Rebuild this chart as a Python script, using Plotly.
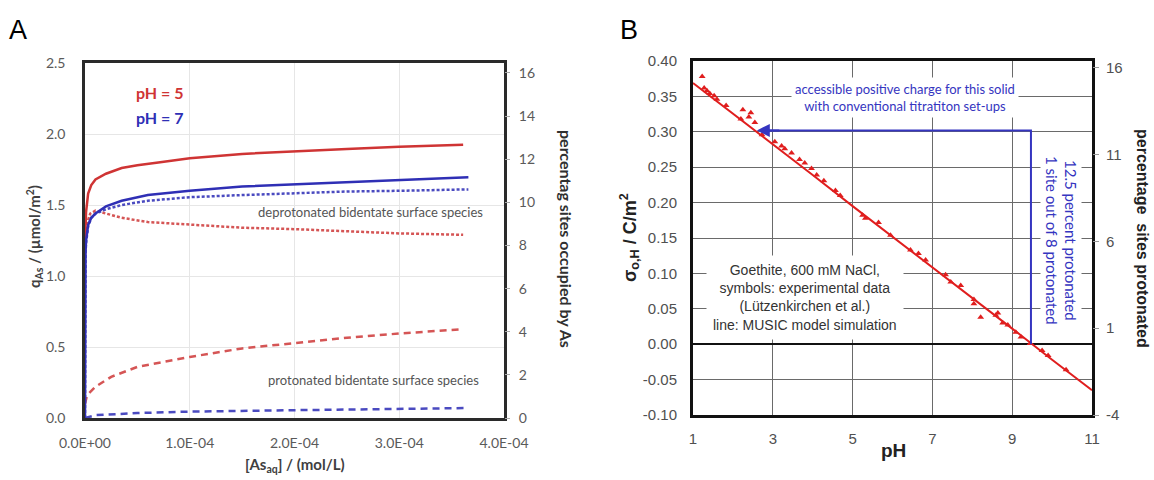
import plotly.graph_objects as go

W, H = 1154, 480

# ---------------- Panel A data ----------------
conc_red_total = [0, 0.01e-4, 0.03e-4, 0.06e-4, 0.1e-4, 0.2e-4, 0.35e-4, 0.5e-4, 0.7e-4, 1.0e-4, 1.5e-4, 2.0e-4, 2.5e-4, 3.0e-4, 3.61e-4]
q_red_total = [1.25, 1.45, 1.58, 1.64, 1.68, 1.72, 1.76, 1.78, 1.80, 1.83, 1.86, 1.88, 1.895, 1.91, 1.925]

conc_blue_total = [0, 0.001e-4, 0.005e-4, 0.01e-4, 0.03e-4, 0.06e-4, 0.1e-4, 0.2e-4, 0.35e-4, 0.6e-4, 1.0e-4, 1.5e-4, 2.0e-4, 2.5e-4, 3.0e-4, 3.66e-4]
q_blue_total = [0, 1.0, 1.17, 1.25, 1.36, 1.41, 1.44, 1.49, 1.53, 1.57, 1.60, 1.63, 1.645, 1.66, 1.675, 1.695]

conc_blue_deprot = [0, 0.001e-4, 0.005e-4, 0.01e-4, 0.03e-4, 0.06e-4, 0.1e-4, 0.2e-4, 0.35e-4, 0.6e-4, 1.0e-4, 1.5e-4, 2.0e-4, 2.5e-4, 3.0e-4, 3.66e-4]
q_blue_deprot = [0, 1.0, 1.15, 1.23, 1.35, 1.41, 1.44, 1.47, 1.50, 1.53, 1.555, 1.57, 1.585, 1.595, 1.60, 1.61]

conc_red_deprot = [0, 0.01e-4, 0.05e-4, 0.1e-4, 0.2e-4, 0.35e-4, 0.6e-4, 1.0e-4, 1.5e-4, 2.0e-4, 2.5e-4, 3.0e-4, 3.61e-4]
q_red_deprot = [1.15, 1.35, 1.44, 1.46, 1.44, 1.41, 1.38, 1.36, 1.34, 1.33, 1.315, 1.30, 1.29]

conc_red_prot = [0, 0.02e-4, 0.1e-4, 0.25e-4, 0.5e-4, 1.0e-4, 1.5e-4, 2.0e-4, 2.5e-4, 3.0e-4, 3.6e-4]
q_red_prot = [0.10, 0.16, 0.22, 0.29, 0.36, 0.43, 0.49, 0.53, 0.565, 0.595, 0.625]

conc_blue_prot = [0, 0.1e-4, 0.5e-4, 1.0e-4, 2.0e-4, 3.0e-4, 3.66e-4]
q_blue_prot = [0, 0.02, 0.035, 0.045, 0.055, 0.065, 0.07]

a_x_ticks = [0, 1e-4, 2e-4, 3e-4, 4e-4]
a_x_ticktext = ["0.0E+00", "1.0E-04", "2.0E-04", "3.0E-04", "4.0E-04"]
a_y_ticks = [0, 0.5, 1.0, 1.5, 2.0, 2.5]
a_y_ticktext = ["0.0", "0.5", "1.0", "1.5", "2.0", "2.5"]
a_y2_ticks = [0, 2, 4, 6, 8, 10, 12, 14, 16]

# ---------------- Panel B data ----------------
ph_exp = [1.23, 1.28, 1.35, 1.42, 1.53, 1.60, 1.83, 2.25, 2.45, 2.40, 2.20, 2.55, 2.73, 3.05, 3.22, 3.30,
          3.47, 3.67, 3.80, 3.97, 4.10, 4.28, 4.57, 4.69, 5.25, 5.32, 5.65, 5.95, 6.45, 6.65, 6.83, 7.33,
          7.46, 7.71, 8.04, 8.04, 8.21, 8.59, 8.64, 8.76, 8.89, 9.09, 9.22, 9.45, 9.75, 9.90, 10.35]
sigma_exp = [0.378, 0.362, 0.358, 0.354, 0.351, 0.346, 0.337, 0.331, 0.327, 0.321, 0.318, 0.313, 0.296, 0.286, 0.280, 0.276,
             0.270, 0.261, 0.256, 0.248, 0.239, 0.231, 0.217, 0.210, 0.182, 0.178, 0.172, 0.154, 0.133, 0.128, 0.119, 0.098,
             0.088, 0.083, 0.063, 0.057, 0.038, 0.041, 0.044, 0.030, 0.027, 0.017, 0.010, 0.001, -0.009, -0.016, -0.036]

ph_model = [1, 2, 3, 4, 5, 6, 7, 8, 9, 10, 11]
sigma_model = [0.369, 0.326, 0.282, 0.239, 0.195, 0.152, 0.109, 0.065, 0.022, -0.022, -0.065]

pzc_ph = [9.47, 9.47, 2.75]
pzc_sigma = [0.0, 0.302, 0.302]
arrow_tip_ph = 2.6
arrow_tail_ph = 3.2
arrow_sigma = 0.302

b_x_ticks = [1, 3, 5, 7, 9, 11]
b_y_ticks = [-0.10, -0.05, 0.00, 0.05, 0.10, 0.15, 0.20, 0.25, 0.30, 0.35, 0.40]
b_y_ticktext = ["-0.10", "-0.05", "0.00", "0.05", "0.10", "0.15", "0.20", "0.25", "0.30", "0.35", "0.40"]
b_y2_ticks = [-4, 1, 6, 11, 16]
b_y2_ticktext = ["-4", "1", "6", "11", "16"]

RED_A = "#cf3434"
BLUE_A = "#2f2fb5"
RED_B = "#e01e1e"
BLUE_B = "#3535c0"


def px(x):
    return x / W


def py(y):
    return 1 - y / H


fig = go.Figure()

# Panel A traces
fig.add_trace(go.Scatter(x=conc_red_prot, y=q_red_prot, mode="lines",
                         line=dict(color="#d55555", width=2.5, dash="7px,5px"), xaxis="x", yaxis="y"))
fig.add_trace(go.Scatter(x=conc_blue_prot, y=q_blue_prot, mode="lines",
                         line=dict(color="#4a4ac0", width=2.5, dash="7px,5px"), xaxis="x", yaxis="y"))
fig.add_trace(go.Scatter(x=conc_red_deprot, y=q_red_deprot, mode="lines",
                         line=dict(color="#d55555", width=2.5, dash="3px,2px"), xaxis="x", yaxis="y"))
fig.add_trace(go.Scatter(x=conc_blue_deprot, y=q_blue_deprot, mode="lines",
                         line=dict(color="#4a4ac0", width=2.5, dash="3px,2px"), xaxis="x", yaxis="y"))
fig.add_trace(go.Scatter(x=conc_red_total, y=q_red_total, mode="lines",
                         line=dict(color=RED_A, width=2.5), xaxis="x", yaxis="y"))
fig.add_trace(go.Scatter(x=conc_blue_total, y=q_blue_total, mode="lines",
                         line=dict(color=BLUE_A, width=2.5), xaxis="x", yaxis="y"))
# empty trace so the secondary (percentage) axis of panel A is drawn
fig.add_trace(go.Scatter(x=[], y=[], mode="lines", xaxis="x", yaxis="y2", hoverinfo="skip"))

# Panel B traces
fig.add_trace(go.Scatter(x=ph_model, y=sigma_model, mode="lines",
                         line=dict(color=RED_B, width=2), xaxis="x2", yaxis="y3"))
fig.add_trace(go.Scatter(x=ph_exp, y=sigma_exp, mode="markers",
                         marker=dict(symbol="triangle-up", size=6, color=RED_B), xaxis="x2", yaxis="y3"))
fig.add_trace(go.Scatter(x=pzc_ph, y=pzc_sigma, mode="lines",
                         line=dict(color=BLUE_B, width=2), xaxis="x2", yaxis="y3"))
fig.add_trace(go.Scatter(x=[], y=[], mode="lines", xaxis="x2", yaxis="y4", hoverinfo="skip"))

tickA = dict(family="Lato, Open Sans, sans-serif", size=14, color="#5a5a5a")
tickB = dict(family="Liberation Sans, Arial, sans-serif", size=15, color="#505050")

fig.update_layout(
    width=W, height=H, margin=dict(l=0, r=0, t=0, b=0, autoexpand=False), autosize=False,
    paper_bgcolor="white", plot_bgcolor="white", showlegend=False,
    xaxis=dict(domain=[px(85), px(504)], anchor="y", range=[0, 4e-4], automargin=False,
               tickvals=a_x_ticks, ticktext=a_x_ticktext, tickfont=tickA,
               showgrid=True, gridcolor="#e6e6e6", gridwidth=1, zeroline=False,
               showline=True, mirror=True, linecolor="#2a2a2a", linewidth=2.5,
               ticks="", ticklabelstandoff=10),
    yaxis=dict(domain=[py(418), py(63)], anchor="x", range=[0, 2.5], automargin=False,
               tickvals=a_y_ticks, ticktext=a_y_ticktext, tickfont=tickA,
               showgrid=True, gridcolor="#e6e6e6", gridwidth=1, zeroline=False,
               showline=True, mirror=True, linecolor="#2a2a2a", linewidth=2.5,
               ticks="", ticklabelstandoff=14),
    yaxis2=dict(overlaying="y", anchor="x", side="right", range=[0, 16.46], automargin=False,
                tickvals=a_y2_ticks, tickfont=tickA, showgrid=False, zeroline=False,
                showline=False, ticks="outside", ticklen=5, tickcolor="#aaaaaa",
                ticklabelstandoff=6),
    xaxis2=dict(domain=[px(693), px(1092)], anchor="y3", range=[1, 11], automargin=False,
                tickvals=b_x_ticks, tickfont=tickB,
                showgrid=True, gridcolor="#6a6a6a", gridwidth=1, zeroline=False,
                showline=True, mirror=True, linecolor="#111111", linewidth=3,
                ticks="", ticklabelstandoff=8),
    yaxis3=dict(domain=[py(415), py(61)], anchor="x2", range=[-0.10, 0.40], automargin=False,
                tickvals=b_y_ticks, ticktext=b_y_ticktext, tickfont=tickB,
                showgrid=True, gridcolor="#6a6a6a", gridwidth=1,
                zeroline=True, zerolinecolor="#111111", zerolinewidth=2,
                showline=True, mirror=True, linecolor="#111111", linewidth=3,
                ticks="", ticklabelstandoff=10),
    yaxis4=dict(overlaying="y3", anchor="x2", side="right", range=[-4.0, 16.40], automargin=False,
                tickvals=b_y2_ticks, ticktext=b_y2_ticktext, tickfont=tickB,
                showgrid=False, zeroline=False, showline=False,
                ticks="outside", ticklen=6, tickcolor="#999999", ticklabelstandoff=4),
)

ann = []
lato = "Lato, Open Sans, sans-serif"
arial = "Liberation Sans, Arial, sans-serif"


def label(xp, yp, text, font, **kw):
    d = dict(x=px(xp), y=py(yp), xref="paper", yref="paper", text=text, showarrow=False,
             xanchor="center", yanchor="middle", font=font)
    d.update(kw)
    ann.append(d)


# Panel labels
label(18, 30, "A", dict(family=arial, size=27, color="black"))
label(629, 30, "B", dict(family=arial, size=27, color="black"))

# Panel A titles
label(34, 237, "<b>q<sub>As</sub> / (µmol/m<sup>2</sup>)</b>", dict(family=lato, size=15, color="#404040"), textangle=-90)
label(567, 239, "<b>percentag sites occupied by As</b>", dict(family=lato, size=16, color="#303030"), textangle=90)
label(295, 465, "<b>[As<sub>aq</sub>] / (mol/L)</b>", dict(family=lato, size=15, color="#404040"))

# Panel A in-plot labels
label(134, 93, "<b>pH = 5</b>", dict(family=lato, size=16, color=RED_A), xanchor="left", bgcolor="white")
label(134, 117, "<b>pH = 7</b>", dict(family=lato, size=16, color=BLUE_A), xanchor="left")
label(370, 212, "deprotonated bidentate surface species", dict(family=lato, size=13, color="#555555"))
label(373, 380, "protonated bidentate surface species", dict(family=lato, size=13, color="#555555"))

# Panel B titles
label(629, 238, "<b>σ<sub>o,H</sub> / C/m<sup>2</sup></b>", dict(family=arial, size=18, color="#222222"), textangle=-90)
label(1143, 238, "<b>percentage\u00a0\u00a0sites protonated</b>", dict(family=arial, size=16, color="#222222"), textangle=90)
label(893, 450, "<b>pH</b>", dict(family=arial, size=19, color="#222222"))

# Panel B in-plot texts
label(905, 98, "accessible positive charge for this solid<br>with conventional titratiton set-ups",
      dict(family=lato, size=13, color=BLUE_B), bgcolor="white", borderpad=3)
label(1061, 240, "12.5 percent protonated<br>1 site out of 8 protonated",
      dict(family=lato, size=15, color=BLUE_B), textangle=90, bgcolor="white", borderpad=1)
label(805, 297, "Goethite, 600 mM NaCl,<br>symbols: experimental data<br>(Lützenkirchen et al.)<br>line: MUSIC model simulation",
      dict(family=arial, size=14, color="#333333"), bgcolor="white", borderpad=6)

# Blue arrow head
ann.append(dict(x=arrow_tip_ph, y=arrow_sigma, ax=arrow_tail_ph, ay=arrow_sigma,
                xref="x2", yref="y3", axref="x2", ayref="y3", text="", showarrow=True,
                arrowhead=2, arrowsize=1.3, arrowwidth=2, arrowcolor=BLUE_B))

fig.update_layout(annotations=ann)

fig.write_html("out.html")
